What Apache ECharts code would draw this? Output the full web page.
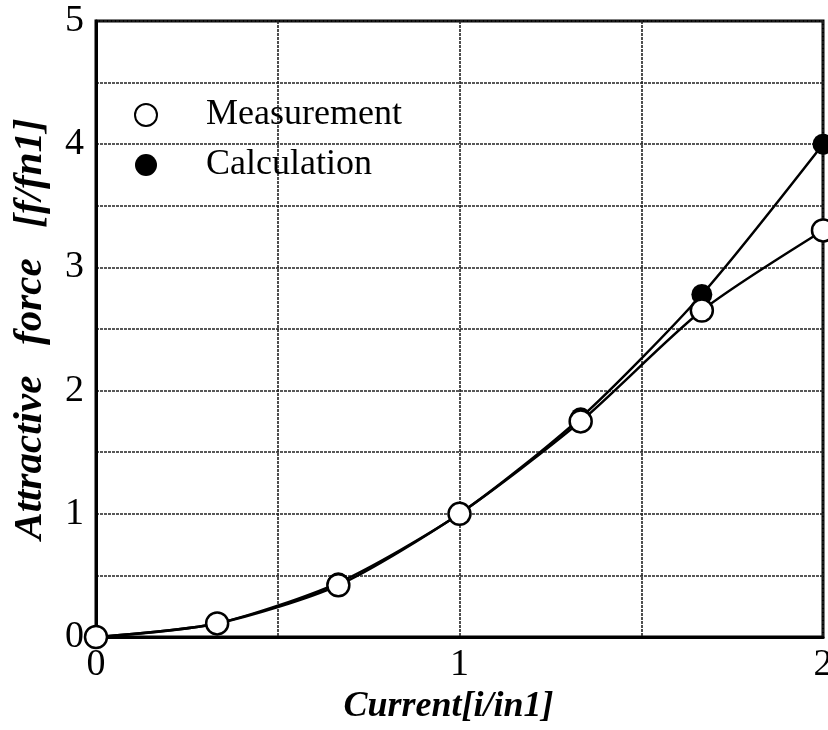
<!DOCTYPE html>
<html>
<head>
<meta charset="utf-8">
<script src="https://cdn.jsdelivr.net/npm/echarts@6/dist/echarts.min.js"></script>
<style>
  html, body { margin: 0; padding: 0; background: #fff; }
  #chart { width: 828px; height: 730px; }
</style>
</head>
<body>
<div id="chart"></div>
<script>
// current values (i/in1)
var current = [0, 1 / 3, 2 / 3, 1, 4 / 3, 5 / 3, 2];
// attractive force
var measurement = [0, 0.11, 0.42, 1.0, 1.75, 2.65, 3.30];
var calculation = [0, 0.11, 0.44, 1.0, 1.78, 2.78, 4.0];
// which ticks carry a label
var xTickLabels = [0, 1, 2];
var yTickLabels = [0, 1, 2, 3, 4, 5];

var serif = '"Liberation Serif", "DejaVu Serif", serif';

function pairs(xs, ys) {
  return xs.map(function (x, i) { return [x, ys[i]]; });
}

var chart = echarts.init(document.getElementById('chart'));
chart.setOption({
  animation: false,
  backgroundColor: '#fff',
  grid: {
    left: 96, right: 5, top: 21, bottom: 93,
    outerBoundsMode: 'none',
    show: true, borderColor: '#000', borderWidth: 3
  },
  legend: {
    orient: 'vertical',
    left: 129, top: 92,
    icon: 'circle',
    itemWidth: 22, itemHeight: 22, itemGap: 14,
    data: ['Measurement', 'Calculation'],
    textStyle: { fontFamily: serif, fontSize: 36, lineHeight: 36, color: '#000', padding: [0, 0, 0, 44] }
  },
  xAxis: {
    type: 'value', min: 0, max: 2, interval: 0.5,
    name: 'Current[i/in1]', nameLocation: 'middle', nameGap: 50,
    nameTextStyle: {
      fontFamily: serif, fontSize: 36, fontWeight: 'bold', fontStyle: 'italic', color: '#000',
      padding: [0, 22, 0, 0]
    },
    axisLine: { show: true, lineStyle: { color: '#000', width: 3 } },
    axisTick: { show: false },
    axisLabel: {
      fontFamily: serif, fontSize: 38, color: '#000', margin: 9,
      formatter: function (v) { return xTickLabels.indexOf(v) >= 0 ? String(v) : ''; }
    },
    splitLine: { show: true, lineStyle: { color: '#222', width: 1.6, type: [3, 1] } }
  },
  yAxis: {
    type: 'value', min: 0, max: 5, interval: 0.5,
    name: 'Attractive   force   [f/fn1]', nameLocation: 'middle', nameGap: 45, nameRotate: 90,
    nameTextStyle: { fontFamily: serif, fontSize: 41, fontWeight: 'bold', fontStyle: 'italic', color: '#000' },
    axisLine: { show: true, lineStyle: { color: '#000', width: 3 } },
    axisTick: { show: false },
    axisLabel: {
      fontFamily: serif, fontSize: 38, color: '#000', margin: 12,
      formatter: function (v) { return yTickLabels.indexOf(v) >= 0 ? String(v) : ''; }
    },
    splitLine: { show: true, lineStyle: { color: '#222', width: 1.6, type: [3, 1] } }
  },
  series: [
    {
      name: 'Calculation', type: 'line', smooth: 0.25,
      data: pairs(current, calculation),
      symbol: 'circle', symbolSize: 21,
      lineStyle: { color: '#000', width: 2.5 },
      itemStyle: { color: '#000', borderColor: '#000', borderWidth: 0 },
      z: 2
    },
    {
      name: 'Measurement', type: 'line', smooth: 0.25,
      data: pairs(current, measurement),
      symbol: 'circle', symbolSize: 22,
      lineStyle: { color: '#000', width: 2.5 },
      itemStyle: { color: '#fff', borderColor: '#000', borderWidth: 2.5 },
      z: 3
    }
  ]
});
</script>
</body>
</html>
